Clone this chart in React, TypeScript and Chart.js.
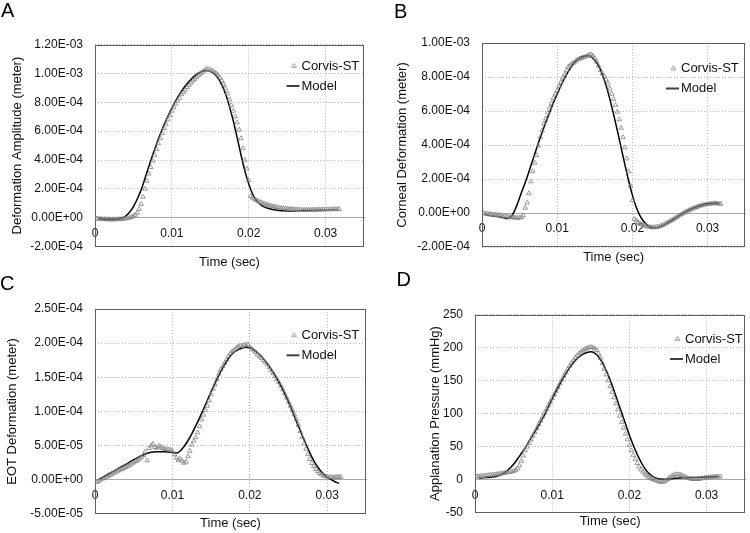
import React, { useEffect, useRef } from 'react';
import { Chart, registerables } from 'chart.js';

Chart.register(...registerables);

const FONT = "'Liberation Sans', Arial, Helvetica, sans-serif";

// ---------- DATA ----------
// Corvis-ST sampling times (ms)
const tCorvisMs = [
  0.25, 0.5, 0.75, 1,
  1.25, 1.5, 1.75, 2,
  2.25, 2.5, 2.75, 3,
  3.25, 3.5, 3.75, 4,
  4.25, 4.5, 4.75, 5,
  5.25, 5.5, 5.75, 6,
  6.25, 6.5, 6.75, 7,
  7.25, 7.5, 7.75, 8,
  8.25, 8.5, 8.75, 9,
  9.25, 9.5, 9.75, 10,
  10.25, 10.5, 10.75, 11,
  11.25, 11.5, 11.75, 12,
  12.25, 12.5, 12.75, 13,
  13.25, 13.5, 13.75, 14,
  14.25, 14.5, 14.75, 15,
  15.25, 15.5, 15.75, 16,
  16.25, 16.5, 16.75, 17,
  17.25, 17.5, 17.75, 18,
  18.25, 18.5, 18.75, 19,
  19.25, 19.5, 19.75, 20,
  20.25, 20.5, 20.75, 21,
  21.25, 21.5, 21.75, 22,
  22.25, 22.5, 22.75, 23,
  23.25, 23.5, 23.75, 24,
  24.25, 24.5, 24.75, 25,
  25.25, 25.5, 25.75, 26,
  26.25, 26.5, 26.75, 27,
  27.25, 27.5, 27.75, 28,
  28.25, 28.5, 28.75, 29,
  29.25, 29.5, 29.75, 30,
  30.25, 30.5, 30.75, 31,
  31.25, 31.5, 31.75,
];

// Model output times (ms)
const tModelMs = [
  0.5, 1, 1.5, 2,
  2.5, 3, 3.5, 4,
  4.5, 5, 5.5, 6,
  6.5, 7, 7.5, 8,
  8.5, 9, 9.5, 10,
  10.5, 11, 11.5, 12,
  12.5, 13, 13.5, 14,
  14.5, 15, 15.5, 16,
  16.5, 17, 17.5, 18,
  18.5, 19, 19.5, 20,
  20.5, 21, 21.5, 22,
  22.5, 23, 23.5, 24,
  24.5, 25, 25.5, 26,
  26.5, 27, 27.5, 28,
  28.5, 29, 29.5, 30,
  30.5, 31, 31.5,
];

// A: Deformation amplitude (x 1e-4 m)
const corvisA = [
  -0.05, -0.08, -0.06, -0.1,
  -0.09, -0.12, -0.1, -0.13,
  -0.11, -0.12, -0.1, -0.11,
  -0.08, -0.09, -0.06, -0.05,
  -0.02, 0.0, 0.05, 0.12,
  0.2, 0.35, 0.6, 0.95,
  1.45, 2.0, 2.55, 3.05,
  3.5, 3.95, 4.35, 4.75,
  5.15, 5.5, 5.85, 6.2,
  6.5, 6.8, 7.1, 7.4,
  7.65, 7.9, 8.1, 8.3,
  8.55, 8.7, 8.85, 9.05,
  9.2, 9.35, 9.5, 9.62,
  9.75, 9.88, 9.98, 10.1,
  10.2, 10.3, 10.28, 10.22,
  10.18, 10.1, 10.0, 9.88,
  9.7, 9.5, 9.25, 8.95,
  8.6, 8.2, 7.8, 7.4,
  7.0, 6.6, 6.1, 5.5,
  4.8, 4.0, 3.4, 2.6,
  1.5, 1.38, 1.3, 1.22,
  1.15, 1.08, 1.03, 0.98,
  0.93, 0.89, 0.85, 0.82,
  0.78, 0.75, 0.72, 0.7,
  0.68, 0.66, 0.64, 0.62,
  0.61, 0.6, 0.59, 0.58,
  0.57, 0.56, 0.55, 0.55,
  0.54, 0.54, 0.55, 0.55,
  0.56, 0.55, 0.56, 0.57,
  0.56, 0.57, 0.58, 0.57,
  0.58, 0.59, 0.58, 0.59,
  0.6, 0.59, 0.6,
];
const modelA = [
  -0.05, -0.08, -0.1, -0.1,
  -0.1, -0.08, -0.02, 0.12,
  0.38, 0.78, 1.3, 1.92,
  2.72, 3.55, 4.35, 5.1,
  5.8, 6.45, 7.05, 7.6,
  8.1, 8.55, 8.95, 9.3,
  9.6, 9.85, 10.03, 10.15,
  10.2, 10.15, 9.98, 9.68,
  9.2, 8.55, 7.7, 6.7,
  5.55, 4.35, 3.25, 2.35,
  1.65, 1.2, 0.92, 0.76,
  0.66, 0.59, 0.54, 0.51,
  0.49, 0.48, 0.48, 0.48,
  0.49, 0.5, 0.5, 0.51,
  0.51, 0.52, 0.52, 0.52,
  0.52, 0.53, 0.53,
];

// B: Corneal deformation (x 1e-4 m)
const corvisB = [
  -0.02, -0.05, -0.04, -0.08,
  -0.07, -0.1, -0.1, -0.13,
  -0.12, -0.15, -0.17, -0.18,
  -0.2, -0.22, -0.24, -0.26,
  -0.27, -0.28, -0.3, -0.28,
  -0.25, -0.15, 0.3, 0.6,
  1.15, 1.85, 2.45, 2.95,
  3.4, 3.95, 4.45, 4.85,
  5.25, 5.55, 5.9, 6.2,
  6.45, 6.75, 7.0, 7.2,
  7.45, 7.7, 7.95, 8.15,
  8.4, 8.6, 8.7, 8.78,
  8.85, 8.95, 9.02, 9.08,
  9.12, 9.15, 9.2, 9.24,
  9.3, 9.32, 9.25, 9.1,
  8.9, 8.65, 8.4, 8.2,
  8.05, 7.85, 7.6, 7.3,
  7.0, 6.7, 6.35, 5.95,
  5.5, 5.0, 4.45, 3.85,
  3.2, 2.45, 1.6, 0.75,
  -0.35, -0.45, -0.55, -0.62,
  -0.68, -0.72, -0.76, -0.8,
  -0.82, -0.84, -0.85, -0.84,
  -0.82, -0.8, -0.76, -0.72,
  -0.67, -0.6, -0.55, -0.48,
  -0.42, -0.35, -0.28, -0.22,
  -0.15, -0.08, -0.02, 0.05,
  0.1, 0.16, 0.21, 0.26,
  0.3, 0.34, 0.38, 0.42,
  0.45, 0.48, 0.5, 0.52,
  0.54, 0.55, 0.56, 0.57,
  0.56, 0.55, 0.53,
];
const modelB = [
  -0.12, -0.15, -0.18, -0.21,
  -0.25, -0.3, -0.33, -0.15,
  0.3, 0.9, 1.5, 2.1,
  2.78, 3.45, 4.12, 4.75,
  5.35, 5.92, 6.48, 7.0,
  7.5, 7.95, 8.35, 8.68,
  8.95, 9.13, 9.22, 9.25,
  9.18, 8.98, 8.65, 8.15,
  7.5, 6.7, 5.8, 4.85,
  3.85, 2.85, 1.9, 1.05,
  0.35, -0.15, -0.5, -0.72,
  -0.85, -0.88, -0.84, -0.75,
  -0.63, -0.5, -0.36, -0.22,
  -0.08, 0.05, 0.17, 0.28,
  0.37, 0.44, 0.5, 0.54,
  0.57, 0.58, 0.57,
];

// C: EOT deformation (x 1e-5 m)
const corvisC = [
  -0.35, -0.2, 0.0, 0.15,
  0.3, 0.45, 0.55, 0.7,
  0.85, 1.0, 1.15, 1.3,
  1.45, 1.55, 1.7, 1.85,
  2.0, 2.15, 2.35, 2.5,
  2.7, 2.85, 3.05, 3.3,
  3.55, 4.1, 2.8, 4.6,
  5.0, 5.2, 4.75, 4.65,
  4.95, 4.8, 4.6, 4.5,
  4.45, 4.4, 4.35, 4.25,
  3.7, 3.2, 2.85, 3.05,
  2.75, 2.45, 2.6, 3.4,
  4.2, 5.1, 5.7, 6.2,
  6.9, 7.8, 8.8, 9.5,
  10.2, 10.8, 11.6, 12.5,
  13.3, 13.9, 14.7, 15.5,
  16.1, 16.6, 17.1, 17.6,
  18.1, 18.5, 18.8, 19.0,
  19.3, 19.5, 19.65, 19.55,
  19.75, 19.7, 19.8, 19.4,
  19.15, 18.9, 18.65, 18.3,
  18.05, 17.8, 17.5, 17.2,
  16.85, 16.45, 16.0, 15.6,
  15.15, 14.7, 14.25, 13.75,
  13.2, 12.6, 12.0, 11.4,
  10.8, 10.2, 9.55, 8.8,
  8.0, 7.1, 6.2, 5.3,
  4.5, 3.7, 3.0, 2.4,
  1.95, 1.55, 1.2, 0.95,
  0.75, 0.6, 0.5, 0.42,
  0.38, 0.35, 0.33, 0.35,
  0.4, 0.38, 0.42,
];
const modelC = [
  0.0, 0.35, 0.7, 1.0,
  1.3, 1.62, 1.95, 2.25,
  2.6, 2.92, 3.22, 3.5,
  3.75, 3.95, 4.05, 4.1,
  4.1, 4.08, 4.05, 3.98,
  3.9, 4.2, 4.85, 5.7,
  6.7, 7.85, 9.05, 10.3,
  11.6, 12.9, 14.1, 15.3,
  16.4, 17.35, 18.15, 18.7,
  19.05, 19.3, 19.4, 19.32,
  19.05, 18.6, 18.05, 17.35,
  16.6, 15.75, 14.8, 13.75,
  12.6, 11.35, 10.0, 8.6,
  7.2, 5.85, 4.55, 3.35,
  2.3, 1.5, 0.85, 0.35,
  0.0, -0.3, -0.55,
];

// D: Applanation pressure (mmHg)
const corvisD = [
  4.5, 4.8, 5.2, 5.0,
  5.6, 6.0, 6.4, 6.9,
  7.2, 7.5, 7.8, 8.3,
  8.6, 9.2, 9.8, 10.3,
  10.9, 11.4, 11.8, 12.5,
  14.0, 16.5, 21.0, 28.0,
  36.0, 44.0, 49.5, 55.0,
  60.5, 66.0, 71.5, 77.5,
  83.5, 89.0, 95.0, 101.0,
  106.5, 112.0, 117.5, 123.0,
  128.5, 134.0, 139.5, 145.5,
  151.0, 156.5, 162.0, 167.0,
  172.0, 176.5, 180.5, 184.5,
  188.0, 191.0, 193.5, 195.5,
  197.5, 199.0, 200.0, 200.5,
  200.0, 198.5, 196.0, 191.0,
  184.0, 176.0, 167.5, 159.0,
  150.0, 141.0, 132.5, 124.0,
  115.0, 106.0, 96.5, 87.0,
  78.0, 69.0, 60.5, 52.0,
  44.0, 37.0, 30.5, 24.5,
  19.5, 15.0, 11.5, 8.5,
  6.0, 3.8, 2.0, 0.5,
  -0.8, -1.8, -2.8, -3.5,
  -3.8, -3.2, -1.8, 0.5,
  3.0, 5.2, 6.8, 7.6,
  7.8, 7.5, 6.6, 5.2,
  3.8, 2.6, 1.6, 1.0,
  0.6, 0.4, 0.5, 0.8,
  1.3, 1.8, 2.4, 2.9,
  3.3, 3.7, 4.0, 4.2,
  4.3, 4.4, 4.2,
];
const modelD = [
  2.3, 2.6, 3.0, 3.4,
  4.2, 5.5, 8.0, 11.5,
  17.0, 23.0, 31.0, 39.5,
  48.0, 58.0, 67.5, 77.0,
  87.5, 98.0, 110.0, 122.0,
  134.0, 145.0, 155.5, 165.0,
  173.5, 180.5, 186.0, 190.0,
  192.5, 193.5, 191.5, 186.0,
  177.0, 165.0, 151.0, 135.0,
  118.0, 101.0, 84.0, 67.0,
  52.0, 38.5, 26.5, 16.5,
  9.5, 4.8, 2.0, 0.6,
  0.3, 0.8, 1.3, 1.8,
  2.2, 2.5, 2.7, 2.9,
  3.1, 3.3, 3.5, 3.8,
  4.1, 4.4, 4.7,
];

const seriesNames = ['Corvis-ST', 'Model'];
const xAxisTitle = 'Time (sec)';

// ---------- HELPERS ----------
function sci(v: number): string {
  if (Math.abs(v) < 1e-12) return '0.00E+00';
  const [m, e] = v.toExponential(2).split('e');
  const n = parseInt(e, 10);
  return m + 'E' + (n < 0 ? '-' : '+') + String(Math.abs(n)).padStart(2, '0');
}
function plain(v: number): string {
  return String(Math.round(v));
}
function xFmt(v: number): string {
  return Math.abs(v) < 1e-9 ? '0' : v.toFixed(2);
}

function makeIcon(kind: 'tri' | 'line'): HTMLCanvasElement {
  const c = document.createElement('canvas');
  c.width = 26;
  c.height = 10;
  const g = c.getContext('2d')!;
  if (kind === 'tri') {
    const cx = 18.5, cy = 5, r = 2.6;
    g.strokeStyle = '#808080';
    g.lineWidth = 0.8;
    g.beginPath();
    g.moveTo(cx, cy - r);
    g.lineTo(cx + r * 0.866, cy + r * 0.5);
    g.lineTo(cx - r * 0.866, cy + r * 0.5);
    g.closePath();
    g.stroke();
  } else {
    g.strokeStyle = '#000';
    g.lineWidth = 1.5;
    g.beginPath();
    g.moveTo(11, 5);
    g.lineTo(24, 5);
    g.stroke();
  }
  return c;
}

interface PanelSpec {
  left: number; top: number; width: number; height: number;
  pad: { left: number; right: number; top: number; bottom: number };
  yWidth: number; xTitlePad: number; legendX: number; legendY: number;
  yMin: number; yMax: number; yStep: number; yFmt: (v: number) => string;
  yTitle: string; corvis: number[]; model: number[]; unit: number;
}

const panels: PanelSpec[] = [
  {
    left: 0, top: 0, width: 375, height: 272,
    pad: { left: 9.2, right: 11, top: 44.5, bottom: 2.2 },
    yWidth: 85.8, xTitlePad: 7.5, legendX: 301.5, legendY: 66,
    yMin: -0.0002, yMax: 0.0012, yStep: 0.0002, yFmt: sci,
    yTitle: 'Deformation Amplitude (meter)', corvis: corvisA, model: modelA, unit: 1e-4,
  },
  {
    left: 375, top: 0, width: 375, height: 272,
    pad: { left: 19.7, right: 1, top: 43, bottom: 7.2 },
    yWidth: 87.3, xTitlePad: 2.2, legendX: 306, legendY: 68.5,
    yMin: -0.0002, yMax: 0.001, yStep: 0.0002, yFmt: sci,
    yTitle: 'Corneal Deformation (meter)', corvis: corvisB, model: modelB, unit: 1e-4,
  },
  {
    left: 0, top: 272, width: 375, height: 261,
    pad: { left: 4.7, right: 9, top: 37, bottom: 0.2 },
    yWidth: 90.3, xTitlePad: 1.7, legendX: 301.5, legendY: 63.3,
    yMin: -0.00005, yMax: 0.00025, yStep: 0.00005, yFmt: sci,
    yTitle: 'EOT Deformation (meter)', corvis: corvisC, model: modelC, unit: 1e-5,
  },
  {
    left: 375, top: 272, width: 375, height: 261,
    pad: { left: 52.2, right: 4, top: 42.5, bottom: 4.2 },
    yWidth: 47.8, xTitlePad: 0.7, legendX: 310, legendY: 67,
    yMin: -50, yMax: 250, yStep: 50, yFmt: plain,
    yTitle: 'Applanation Pressure (mmHg)', corvis: corvisD, model: modelD, unit: 1,
  },
];

const letters = [
  { text: 'A', left: 1, top: 0 },
  { text: 'B', left: 394, top: 1 },
  { text: 'C', left: 0, top: 272.5 },
  { text: 'D', left: 396.5, top: 269 },
];

function Panel({ spec }: { spec: PanelSpec }) {
  const ref = useRef<HTMLCanvasElement>(null);
  useEffect(() => {
    const canvas = ref.current;
    if (!canvas) return;
    Chart.defaults.font.family = FONT;
    Chart.defaults.color = '#000';
    const triIcon = makeIcon('tri');
    const lineIcon = makeIcon('line');

    const frame = {
      id: 'frame',
      beforeDatasetsDraw(chart: any) {
        const { ctx, chartArea: a } = chart;
        ctx.save();
        ctx.strokeStyle = '#5e5e5e';
        ctx.lineWidth = 1;
        const l = Math.round(a.left) + 0.5;
        const t = Math.round(a.top) + 0.5;
        const r = Math.round(a.right) - 0.5;
        const b = Math.round(a.bottom) - 0.5;
        ctx.strokeRect(l, t, r - l, b - t);
        ctx.restore();
      },
    };
    const legendPlace = {
      id: 'legendPlace',
      afterLayout(chart: any) {
        const lg = chart.legend;
        if (!lg) return;
        const left = spec.legendX - 26.5;
        const top = spec.legendY - 13.5;
        lg.left = left;
        lg.top = top;
        lg.width = 110;
        lg.height = 60;
        lg.right = left + 110;
        lg.bottom = top + 60;
      },
    };

    const corvisPts = tCorvisMs.map((t, i) => ({ x: t / 1000, y: spec.corvis[i] * spec.unit }));
    const modelPts = tModelMs.map((t, i) => ({ x: t / 1000, y: spec.model[i] * spec.unit }));

    const chart = new Chart(canvas, {
      type: 'scatter',
      data: {
        datasets: [
          {
            label: seriesNames[0],
            data: corvisPts,
            showLine: false,
            pointStyle: 'triangle',
            pointRadius: 2.6,
            pointBorderWidth: 0.8,
            pointBorderColor: '#808080',
            pointBackgroundColor: 'rgba(255,255,255,0)',
          } as any,
          {
            label: seriesNames[1],
            data: modelPts,
            showLine: true,
            borderColor: '#000',
            borderWidth: 1.5,
            pointRadius: 0,
            cubicInterpolationMode: 'monotone',
            fill: false,
          } as any,
        ],
      },
      options: {
        animation: false,
        responsive: false,
        events: [],
        layout: { padding: spec.pad },
        scales: {
          x: {
            type: 'linear',
            position: { y: 0 } as any,
            min: 0,
            max: 0.035,
            ticks: {
              stepSize: 0.01,
              includeBounds: false,
              padding: 8.5,
              maxRotation: 0,
              autoSkip: false,
              color: '#111',
              font: { family: FONT, size: 12 },
              callback: (v: any) => xFmt(Number(v)),
            },
            grid: { color: '#b9b9b9', lineWidth: 1, drawTicks: false },
            border: { display: true, color: '#a8a8a8', width: 1, dash: [1, 2] },
          } as any,
          y: {
            type: 'linear',
            position: 'left',
            min: spec.yMin,
            max: spec.yMax,
            afterFit: (s: any) => { s.width = spec.yWidth; },
            ticks: {
              stepSize: spec.yStep,
              padding: 12,
              color: '#111',
              font: { family: FONT, size: 12 },
              callback: (v: any) => spec.yFmt(Number(v)),
            },
            grid: { color: '#b9b9b9', lineWidth: 1, drawTicks: false },
            border: { display: false, dash: [1, 2] },
            title: {
              display: true,
              text: spec.yTitle,
              color: '#111',
              font: { family: FONT, size: 13 },
              padding: 0,
            },
          } as any,
        },
        plugins: {
          tooltip: { enabled: false },
          title: {
            display: true,
            position: 'bottom',
            fullSize: false,
            text: xAxisTitle,
            color: '#111',
            font: { family: FONT, size: 13, weight: 'normal' },
            padding: { top: spec.xTitlePad, bottom: 0 },
          } as any,
          legend: {
            display: true,
            position: 'chartArea',
            align: 'start',
            labels: {
              usePointStyle: true,
              boxWidth: 13,
              boxHeight: 13,
              padding: 7,
              color: '#111',
              font: { family: FONT, size: 13 },
              generateLabels: (c: any) => {
                const items = (Chart.defaults.plugins.legend.labels as any).generateLabels(c);
                items.sort((p: any, q: any) => p.datasetIndex - q.datasetIndex);
                items.forEach((it: any) => {
                  it.pointStyle = it.datasetIndex === 0 ? triIcon : lineIcon;
                  it.fontColor = '#111';
                });
                return items;
              },
            },
          } as any,
        },
      },
      plugins: [frame, legendPlace],
    } as any);
    return () => chart.destroy();
  }, [spec]);
  return (
    <div style={{ position: 'absolute', left: spec.left, top: spec.top, width: spec.width, height: spec.height }}>
      <canvas ref={ref} width={spec.width} height={spec.height} style={{ width: spec.width, height: spec.height, display: 'block' }} />
    </div>
  );
}

export default function App() {
  return (
    <div style={{ position: 'absolute', left: 0, top: 0, width: 750, height: 533, background: '#fff', overflow: 'hidden' }}>
      {panels.map((p, i) => <Panel key={i} spec={p} />)}
      {letters.map((l) => (
        <div key={l.text} style={{ position: 'absolute', left: l.left, top: l.top, fontFamily: FONT, fontSize: 20, lineHeight: '20px', color: '#000' }}>{l.text}</div>
      ))}
    </div>
  );
}
